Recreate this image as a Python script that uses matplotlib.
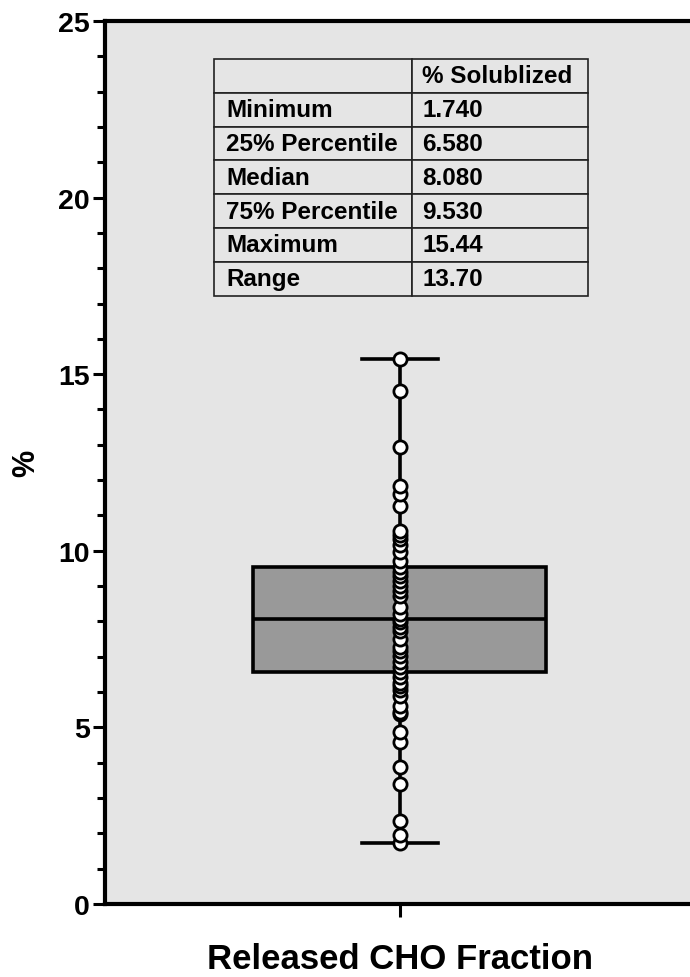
import matplotlib
matplotlib.use('Agg')
import matplotlib.pyplot as plt
import numpy as np

plt.rcParams['font.family'] = ['Liberation Sans', 'DejaVu Sans']
plt.rcParams['font.weight'] = 'bold'

# summary stats (from the inset table)
stat_names = ['Minimum', '25% Percentile', 'Median', '75% Percentile', 'Maximum', 'Range']
stat_values = ['1.740', '6.580', '8.080', '9.530', '15.44', '13.70']
col_header = '% Solublized'
category = 'Released CHO Fraction'

# individual points
points = [1.74, 1.95, 2.35, 3.40, 3.88, 4.59, 4.87, 5.38, 5.45, 5.61, 5.89,
          6.05, 6.17, 6.25, 6.43, 6.58, 6.71, 6.85, 7.02, 7.15, 7.28, 7.50,
          7.73, 7.85, 7.98, 8.08, 8.21, 8.40, 8.72, 8.85, 9.00, 9.15, 9.29,
          9.40, 9.54, 9.70, 9.97, 10.15, 10.33, 10.45, 10.56, 11.27, 11.60,
          11.83, 12.94, 14.52, 15.44]

bg = '#e5e5e5'
fig = plt.figure(figsize=(6.9, 9.78), dpi=100)
ax = fig.add_axes([0.152, 0.0746, 0.855, 0.903])
ax.set_facecolor(bg)

stats = [dict(whislo=1.74, q1=6.58, med=8.08, q3=9.53, whishi=15.44, fliers=[])]
ax.bxp(stats, positions=[1], widths=0.497, patch_artist=True, showfliers=False,
       boxprops=dict(facecolor='#999999', edgecolor='black', linewidth=2.6),
       medianprops=dict(color='black', linewidth=2.6),
       whiskerprops=dict(color='black', linewidth=2.6),
       capprops=dict(color='black', linewidth=2.6), capwidths=0.13)

ax.plot(np.ones(len(points)), points, 'o', ms=9.5, mfc='white', mec='black',
        mew=2.0, zorder=5, clip_on=False)

ax.set_xlim(0.5, 1.5)
ax.set_ylim(0, 25)
ax.set_yticks([0, 5, 10, 15, 20, 25])
ax.set_yticks(np.arange(0, 26, 1), minor=True)
ax.set_xticks([1])
ax.set_xticklabels([category], fontsize=25, fontweight='bold')
ax.tick_params(axis='y', which='major', length=9, width=2.2, labelsize=20.5, pad=2)
ax.tick_params(axis='y', which='minor', length=6, width=2.2)
ax.tick_params(axis='x', length=9, width=2.2, pad=18)
for lab in ax.get_yticklabels():
    lab.set_fontweight('bold')
ax.set_ylabel('%', fontsize=22, fontweight='bold')
ax.yaxis.set_label_coords(-0.108, 0.5)

for s in ['left', 'bottom', 'top']:
    ax.spines[s].set_linewidth(3)
ax.spines['right'].set_visible(False)

cells = [[n, v] for n, v in zip(stat_names, stat_values)]
tbl = ax.table(cellText=[['', col_header]] + cells, cellLoc='left',
               colWidths=[0.529, 0.471], bbox=[0.185, 0.689, 0.634, 0.268])
tbl.auto_set_font_size(False)
for (r, c), cell in tbl.get_celld().items():
    cell.set_facecolor(bg)
    cell.set_edgecolor('#222222')
    cell.set_linewidth(1.2)
    cell.PAD = 0.06
    cell.get_text().set_fontsize(17.5)
    cell.get_text().set_fontweight('bold')

fig.savefig('out.png', dpi=100)
